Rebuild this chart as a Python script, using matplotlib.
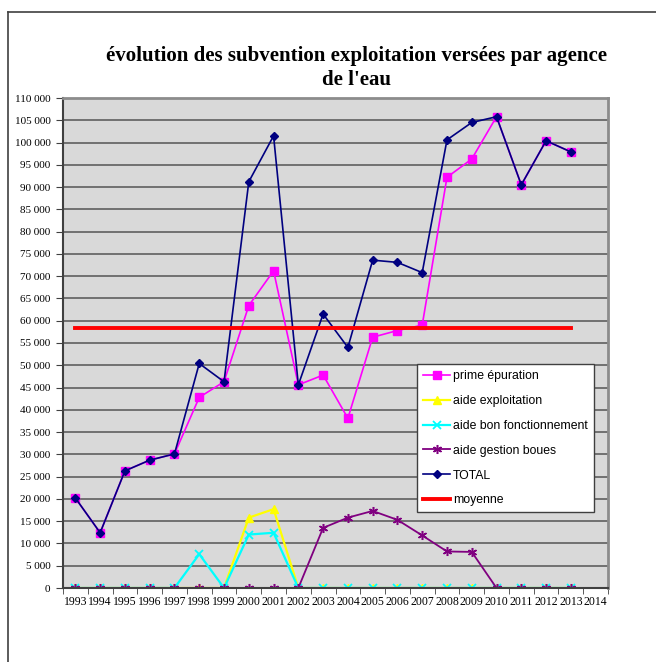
import numpy as np
import matplotlib.pyplot as plt
from matplotlib.lines import Line2D

# data (euros)
years = list(range(1993, 2014))
tick_years = list(range(1993, 2015))
prime_epuration = [20200, 12400, 26300, 28700, 30100, 42800, 46300, 63400, 71200, 45600,
                   47800, 38100, 56300, 57800, 59000, 92200, 96300, 105800, 90500, 100400, 97900]
aide_exploitation = [0, 0, 0, 0, 0, 0, 0, 15800, 17700, 0,
                     0, 0, 0, 0, 0, 0, 0, 0, 0, 0, 0]
aide_bon_fonct = [0, 0, 0, 0, 0, 7600, 0, 12000, 12400, 0,
                  0, 0, 0, 0, 0, 0, 0, 0, 0, 0, 0]
aide_boues = [0, 0, 0, 0, 0, 0, 0, 0, 0, 0,
              13500, 15800, 17300, 15300, 11800, 8200, 8100, 0, 0, 0, 0]
total = [20200, 12400, 26300, 28700, 30100, 50400, 46300, 91200, 101500, 45600,
         61500, 54000, 73600, 73100, 70800, 100600, 104500, 105800, 90500, 100400, 97900]
moyenne = [58400] * len(years)

serif = ['Liberation Serif', 'DejaVu Serif']
sans = ['Liberation Sans', 'DejaVu Sans']

fig = plt.figure(figsize=(6.56, 6.62), dpi=100)
ax = fig.add_axes([63/656, 74/662, 545/656, 490/662])
ax.set_facecolor('#d9d9d9')

ax.plot(years, prime_epuration, color='#ff00ff', lw=1.2, marker='s', ms=6, label='prime épuration')
ax.plot(years, aide_exploitation, color='#ffff00', lw=1.6, marker='^', ms=6, label='aide exploitation')
ax.plot(years, aide_bon_fonct, color='#00ffff', lw=1.6, marker='x', ms=6, mew=1.3,
        label='aide bon fonctionnement')
ax.plot(years, aide_boues, color='#800080', lw=1.3, marker=(6, 2, 0), ms=6.5, mew=1.1,
        label='aide gestion boues')
ax.plot(years, total, color='#000080', lw=1.2, marker='D', ms=4.5, label='TOTAL')
ax.plot(years, moyenne, color='#ff0000', lw=2.8, label='moyenne')

ax.set_xlim(1992.5, 2014.5)
ax.set_ylim(0, 110000)
ax.set_yticks(np.arange(0, 110001, 5000))
ax.set_yticklabels([f'{v:,}'.replace(',', ' ') for v in range(0, 110001, 5000)],
                   family=serif, fontsize=8)
ax.set_xticks(tick_years)
ax.set_xticklabels([str(y) for y in tick_years], family=serif, fontsize=8.5)
ax.set_xticks(np.arange(1992.5, 2015, 1), minor=True)
ax.tick_params(axis='x', which='major', length=0, pad=6)
ax.tick_params(axis='x', which='minor', length=4, color='#404040', direction='out')
ax.tick_params(axis='y', length=5, color='#404040', pad=4)

ax.yaxis.grid(True, color='#555555', lw=1.1)
ax.set_axisbelow(True)
for s in ['top', 'right']:
    ax.spines[s].set_color('#8c8c8c')
    ax.spines[s].set_linewidth(2)
for s in ['left', 'bottom']:
    ax.spines[s].set_color('#404040')
    ax.spines[s].set_linewidth(1.5)

leg = ax.legend(loc='upper left', bbox_to_anchor=(0.65, 0.457), prop={'family': sans, 'size': 8.8},
                frameon=True, fancybox=False, framealpha=1, edgecolor='#404040',
                labelspacing=1.05, handlelength=2.2, handletextpad=0.2, borderpad=0.5,
                borderaxespad=0)
leg.get_frame().set_linewidth(1)

fig.text(0.543, 0.897, "évolution des subvention exploitation versées par agence\nde l'eau",
         ha='center', va='center', family=serif, fontsize=15, fontweight='bold',
         linespacing=1.25)

# outer frame (left and top edge only)
fig.add_artist(Line2D([8/656, 8/656], [0, 1 - 12/662], transform=fig.transFigure,
                      color='#404040', lw=1.2))
fig.add_artist(Line2D([8/656, 1], [1 - 12/662, 1 - 12/662], transform=fig.transFigure,
                      color='#404040', lw=1.2))

fig.savefig('out.png', dpi=100)
